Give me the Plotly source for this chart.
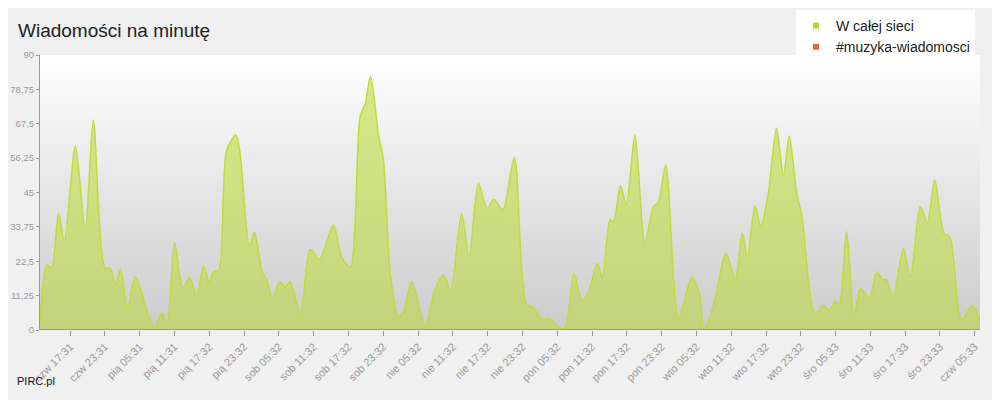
import plotly.graph_objects as go

# hours after "czw 17:31"
hours = [-5.2, -4.0, -3.2, -2.0, -1.0, 0.9, 2.6, 4.0, 6.0, 6.9, 7.8, 8.7, 9.9, 11.2, 14.5, 15.8, 16.7,
         18.0, 19.4, 20.6, 21.8, 23.0, 24.0, 24.7, 25.6, 27.0, 28.6, 29.3, 30.9, 31.8, 33.1, 33.9, 34.9,
         36.1, 37.1, 37.9, 39.7, 41.4, 43.0, 45.4, 46.8, 48.3, 50.0, 50.9, 51.8, 53.2, 54.0, 55.2, 56.6,
         57.5, 58.9, 61.2, 62.9, 64.4, 65.6, 67.5, 68.8, 70.4, 71.9, 73.1, 74.6, 76.6, 78.7, 79.8, 81.3,
         82.6, 84.2, 85.3, 86.9, 88.2, 89.4, 90.9, 91.8, 93.1, 93.7, 94.9, 95.9, 97.4, 99.1, 100.6, 101.4,
         102.7, 104.9, 107.2, 108.5, 109.3, 110.9, 113.1, 114.7, 115.9, 116.8, 118.1, 119.1, 120.4, 121.8,
         123.0, 124.0, 125.3, 126.2, 128.4, 129.9, 130.9, 131.9, 132.6, 133.9, 135.2, 136.3, 137.8, 139.1,
         140.2, 140.8, 141.9, 143.7, 144.9, 146.6, 147.8, 149.1, 150.7, 151.7, 153.7, 155.6, 156.9]
network = [2.7, 21.3, 20.3, 38.3, 28.9, 60.2, 32.7, 68.7, 20.3, 20.3, 14.7, 20.0, 6.9, 17.4, 0.6, 5.5, 2.3,
           28.6, 13.7, 17.3, 11.1, 20.9, 15.5, 19.1, 19.6, 58.9, 63.8, 57.9, 27.5, 31.9, 19.1, 16.4, 10.0,
           15.8, 14.0, 15.8, 5.5, 26.4, 23.1, 34.4, 24.0, 20.7, 69.8, 74.2, 83.1, 63.3, 56.2, 18.6, 4.4,
           6.0, 15.8, 1.1, 13.1, 18.0, 13.1, 38.2, 24.0, 48.0, 39.8, 42.8, 39.3, 56.5, 8.2, 7.6, 3.5,
           3.8, 0.9, 0.5, 18.6, 9.8, 12.5, 21.8, 17.2, 36.0, 35.4, 47.2, 41.2, 63.8, 28.4, 40.4, 41.7,
           53.8, 3.8, 17.2, 12.0, 0.2, 7.6, 25.1, 16.6, 31.6, 24.0, 40.7, 34.0, 44.7, 66.0,
           50.4, 63.5, 44.7, 37.1, 5.2, 8.0, 6.3, 9.3, 8.5, 32.2, 4.6, 13.6, 10.4, 18.9,
           16.4, 16.4, 10.6, 26.7, 17.2, 40.4, 35.1, 49.1, 31.6, 30.5, 3.3, 8.0, 3.3]
channel = [0] * len(hours)

tick_hours = list(range(0, 157, 6))
tick_labels = ["czw 17:31", "czw 23:31", "pią 05:31", "pią 11:31", "pią 17:32", "pią 23:32",
               "sob 05:32", "sob 11:32", "sob 17:32", "sob 23:32", "nie 05:32", "nie 11:32",
               "nie 17:32", "nie 23:32", "pon 05:32", "pon 11:32", "pon 17:32", "pon 23:32",
               "wto 05:32", "wto 11:32", "wto 17:32", "wto 23:32", "śro 05:33", "śro 11:33",
               "śro 17:33", "śro 23:33", "czw 05:33"]
y_ticks = [0, 11.25, 22.5, 33.75, 45, 56.25, 67.5, 78.75, 90]

fig = go.Figure()

# gradient plot background
fig.add_trace(go.Scatter(
    x=[hours[0], hours[-1]], y=[90, 90], mode="lines", line=dict(width=0),
    fill="tozeroy", fillgradient=dict(type="vertical", colorscale=[[0, "#cbcbcb"], [1, "#ffffff"]]),
    hoverinfo="skip", showlegend=False))

fig.add_trace(go.Scatter(
    x=hours, y=network, mode="lines", line=dict(color="#bfdc3a", width=1.5, shape="spline", smoothing=0.8),
    fill="tozeroy", fillgradient=dict(type="vertical", colorscale=[[0, "#c3d37c"], [1, "#d6ea88"]]),
    showlegend=False))
fig.add_trace(go.Scatter(x=hours, y=channel, mode="lines", line=dict(color="#e8672a", width=1.5),
                         showlegend=False))

# legend entries
fig.add_trace(go.Scatter(x=[None], y=[None], mode="markers", name="W całej sieci",
                         marker=dict(symbol="square", color="#b5d630", size=6)))
fig.add_trace(go.Scatter(x=[None], y=[None], mode="markers", name="#muzyka-wiadomosci",
                         marker=dict(symbol="square", color="#e8672a", size=6)))

fig.update_layout(
    width=1000, height=400,
    paper_bgcolor="#f0f0f0", plot_bgcolor="#ffffff",
    margin=dict(l=32, r=28, t=47, b=78, autoexpand=False),
    font=dict(family="Liberation Sans, Arial, sans-serif", color="#999999", size=11),
    title=dict(text="Wiadomości na minutę", x=0.01, y=0.945, xanchor="left", yanchor="middle",
               font=dict(size=19, color="#222222")),
    legend=dict(x=0.967, y=0.995, xref="container", yref="container", xanchor="right", yanchor="top",
                bgcolor="#ffffff", font=dict(size=14, color="#222222"), itemwidth=30, tracegroupgap=0),
    annotations=[dict(text="PIRC.pl", xref="paper", yref="paper", x=-0.027, y=-0.185,
                      xanchor="left", yanchor="middle", showarrow=False,
                      font=dict(size=11, color="#111111"))],
)
fig.update_xaxes(range=[hours[0], hours[-1]], tickvals=tick_hours, ticktext=tick_labels,
                 tickangle=-45, ticks="outside", ticklen=5, tickcolor="#999999", automargin=False,
                 showgrid=False, zeroline=False, showline=False)
fig.update_yaxes(range=[0, 90], tickvals=y_ticks, ticktext=[str(v).replace(".", ",") for v in y_ticks],
                 ticks="outside", ticklen=3, tickcolor="#999999", showgrid=False, zeroline=False,
                 showline=True, linecolor="#999999", automargin=False, tickfont=dict(size=9.5))

fig.write_html("out.html")
